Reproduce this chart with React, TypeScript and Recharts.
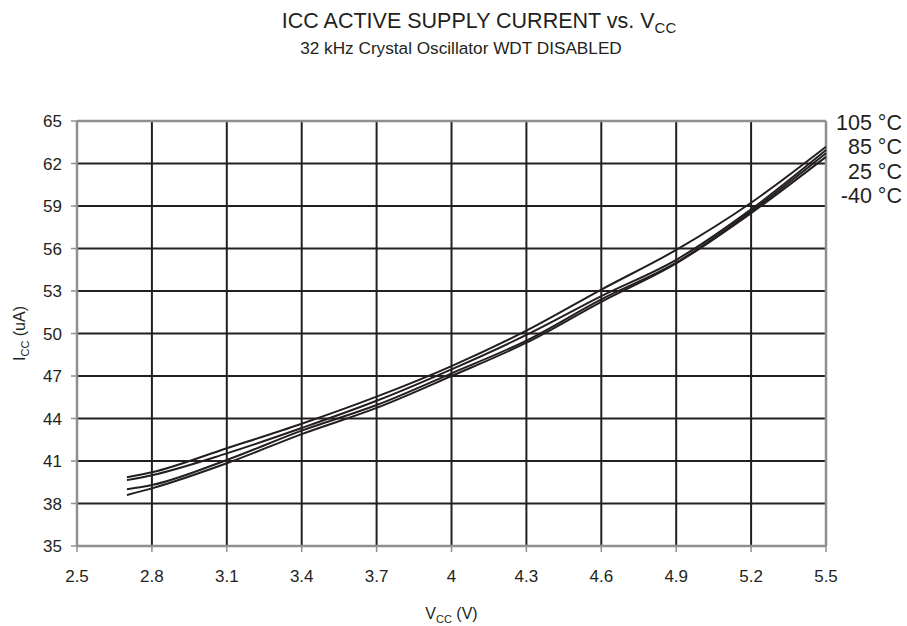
import React from "react";
import { LineChart, Line, XAxis, YAxis, CartesianGrid, ReferenceLine, Label } from "recharts";

const vcc = [2.7, 2.8, 3.1, 3.4, 3.7, 4.0, 4.3, 4.6, 4.9, 5.2, 5.5];
const t105 = [39.85, 40.2, 41.9, 43.63, 45.54, 47.7, 50.2, 53.1, 55.9, 59.23, 63.18];
const t85 = [39.65, 40.0, 41.54, 43.33, 45.25, 47.47, 49.9, 52.64, 55.2, 58.76, 62.95];
const t25 = [39.0, 39.3, 41.07, 43.14, 44.95, 47.19, 49.5, 52.41, 55.0, 58.62, 62.73];
const tm40 = [38.6, 39.07, 40.84, 42.9, 44.75, 47.0, 49.35, 52.24, 54.95, 58.5, 62.47];
const seriesNames = ["105 °C", "85 °C", "25 °C", "-40 °C"];
const xTicks = [2.5, 2.8, 3.1, 3.4, 3.7, 4.0, 4.3, 4.6, 4.9, 5.2, 5.5];
const yTicks = [35, 38, 41, 44, 47, 50, 53, 56, 59, 62, 65];

const data = vcc.map((v, i) => ({ v, t105: t105[i], t85: t85[i], t25: t25[i], tm40: tm40[i] }));
const keys = ["t105", "t85", "t25", "tm40"];

const FONT = "'Liberation Sans', Arial, Helvetica, sans-serif";
const INK = "#231f20";
const GRAY = "#8f8f8f";

const XLabel = (props: any) => {
  const vb = props.viewBox || {};
  const cx = vb.x + vb.width / 2;
  return (
    <text x={cx} y={619} textAnchor="middle" fontFamily={FONT} fontSize={16} fill={INK}>
      <tspan>V</tspan>
      <tspan fontSize={11} dy={4}>CC</tspan>
      <tspan dy={-4}> (V)</tspan>
    </text>
  );
};

const YLabel = (props: any) => {
  const vb = props.viewBox || {};
  const cy = vb.y + vb.height / 2;
  const x = 25;
  return (
    <text x={x} y={cy} transform={`rotate(-90 ${x} ${cy})`} textAnchor="middle" fontFamily={FONT} fontSize={16} fill={INK}>
      <tspan>I</tspan>
      <tspan fontSize={11} dy={4}>CC</tspan>
      <tspan dy={-4}> (uA)</tspan>
    </text>
  );
};

export default function App() {
  return (
    <div style={{ position: "absolute", left: 0, top: 0, width: 907, height: 626, background: "#fff", fontFamily: FONT }}>
      <LineChart width={907} height={626} data={data} margin={{ top: 121, right: 81, bottom: 50, left: 0 }}>
        <CartesianGrid stroke={INK} strokeWidth={2} />
        <ReferenceLine y={65} stroke={GRAY} strokeWidth={2.5} />
        <ReferenceLine x={5.5} stroke={GRAY} strokeWidth={2.5} />
        <XAxis
          dataKey="v"
          type="number"
          domain={[2.5, 5.5]}
          ticks={xTicks}
          interval={0}
          height={30}
          tickSize={6}
          tickMargin={18}
          tick={{ fontSize: 17, fill: INK, fontFamily: FONT }}
          tickLine={{ stroke: GRAY, strokeWidth: 1.5 }}
          axisLine={{ stroke: GRAY, strokeWidth: 2.5 }}
        >
          <Label content={<XLabel />} />
        </XAxis>
        <YAxis
          type="number"
          domain={[35, 65]}
          ticks={yTicks}
          interval={0}
          width={77}
          tickSize={6}
          tickMargin={9}
          tick={{ fontSize: 17, fill: INK, fontFamily: FONT }}
          tickLine={{ stroke: GRAY, strokeWidth: 1.5 }}
          axisLine={{ stroke: GRAY, strokeWidth: 2.5 }}
        >
          <Label content={<YLabel />} />
        </YAxis>
        {keys.map((k, i) => (
          <Line
            key={k}
            name={seriesNames[i]}
            type="monotone"
            dataKey={k}
            stroke={INK}
            strokeWidth={2}
            dot={false}
            isAnimationActive={false}
          />
        ))}
      </LineChart>
      <svg width={907} height={626} style={{ position: "absolute", left: 0, top: 0, pointerEvents: "none" }}>
        <text x={479} y={28} textAnchor="middle" fontFamily={FONT} fontSize={21.5} fill={INK}>
          <tspan>ICC ACTIVE SUPPLY CURRENT vs. V</tspan>
          <tspan fontSize={15} dy={4.5}>CC</tspan>
        </text>
        <text x={461} y={54} textAnchor="middle" fontFamily={FONT} fontSize={17.2} fill={INK}>
          32 kHz Crystal Oscillator WDT DISABLED
        </text>
        {seriesNames.map((n, i) => (
          <text key={n} x={902} y={129.5 + i * 24.5} textAnchor="end" fontFamily={FONT} fontSize={21.5} fill={INK}>
            {n}
          </text>
        ))}
      </svg>
    </div>
  );
}
